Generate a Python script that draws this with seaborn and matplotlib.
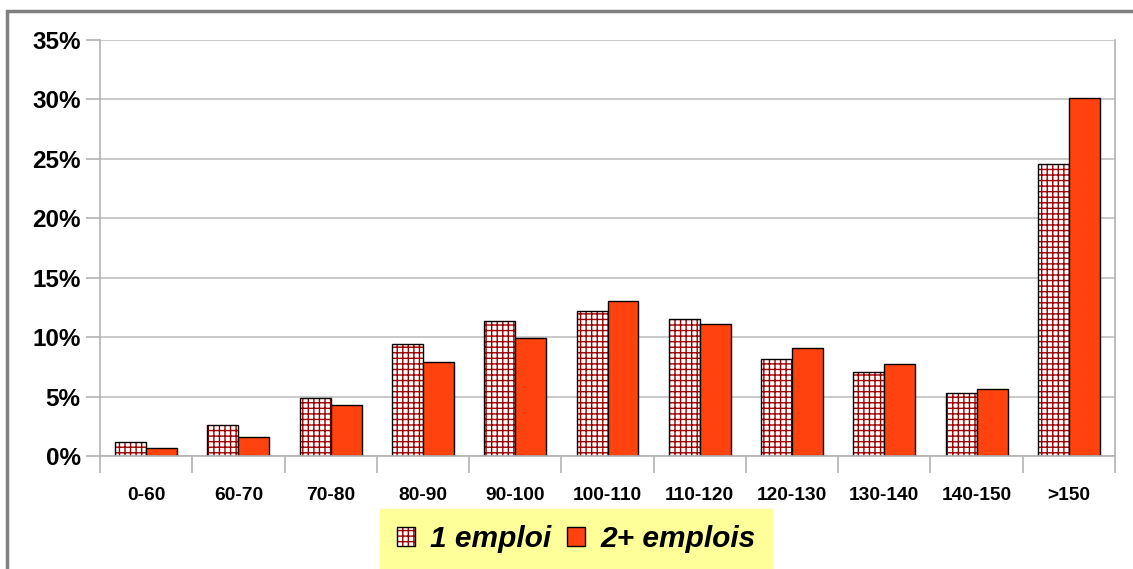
import matplotlib
matplotlib.use("Agg")
import matplotlib.pyplot as plt
import matplotlib.colors as mcolors
from matplotlib.patches import Rectangle
from matplotlib.ticker import FixedLocator, FuncFormatter
import seaborn as sns
import pandas as pd

categories = ["0-60", "60-70", "70-80", "80-90", "90-100", "100-110",
              "110-120", "120-130", "130-140", "140-150", ">150"]
un_emploi = [1.2, 2.6, 4.9, 9.4, 11.4, 12.2, 11.5, 8.2, 7.1, 5.3, 24.6]
deux_emplois = [0.7, 1.6, 4.3, 7.9, 9.9, 13.0, 11.1, 9.1, 7.7, 5.6, 30.1]
series_names = ["1 emploi", "2+ emplois"]
y_ticks = [0, 5, 10, 15, 20, 25, 30, 35]

df = pd.DataFrame({
    "cat": categories * 2,
    "val": un_emploi + deux_emplois,
    "serie": [series_names[0]] * len(categories) + [series_names[1]] * len(categories),
})

sns.set_theme(style="white")
plt.rcParams["font.family"] = ["Liberation Sans", "DejaVu Sans"]
plt.rcParams["text.color"] = "black"
plt.rcParams["xtick.color"] = "black"
plt.rcParams["ytick.color"] = "black"
plt.rcParams["hatch.linewidth"] = 1.0

fig = plt.figure(figsize=(11.33, 5.69), dpi=100)
ax = fig.add_axes([100 / 1133, 1 - 456 / 569, 1015 / 1133, 416 / 569])

palette = {series_names[0]: "white", series_names[1]: "#ff420e"}
sns.barplot(data=df, x="cat", y="val", hue="serie", order=categories,
            hue_order=series_names, palette=palette, width=0.67,
            saturation=1, edgecolor="black", linewidth=1.0, ax=ax, legend=False)

hatch_col = mcolors.to_rgba("#9a0000")
n = len(categories)
for i, p in enumerate(ax.patches):
    if i < n:
        p.set_hatch("+++")
        p._hatch_color = hatch_col

ax.set_ylim(0, 35)
ax.set_xlim(-0.5, n - 0.5)
ax.yaxis.set_major_locator(FixedLocator(y_ticks))
ax.yaxis.set_major_formatter(FuncFormatter(lambda v, pos: f"{v:.0f}%"))
ax.grid(axis="y", color="#c0c0c0", linewidth=1.2)
ax.set_axisbelow(True)
for s in ax.spines.values():
    s.set_color("#b3b3b3")
    s.set_linewidth(1.2)
ax.spines["top"].set_visible(False)
ax.set_xlabel("")
ax.set_ylabel("")
ax.tick_params(axis="y", length=10, width=1.2, color="#b3b3b3", labelcolor="black",
               labelsize=17.5, pad=4, left=True)
ax.tick_params(axis="x", which="major", length=0, labelsize=13.8, pad=22, labelcolor="black")
ax.xaxis.set_minor_locator(FixedLocator([i - 0.5 for i in range(n + 1)]))
ax.tick_params(axis="x", which="minor", length=12, width=1.2, color="#b3b3b3", bottom=True)
for lab in ax.get_yticklabels() + ax.get_xticklabels():
    lab.set_fontweight("bold")

handles = [ax.patches[0], ax.patches[n]]
leg = fig.legend(handles, series_names, loc="upper center",
                 bbox_to_anchor=(576 / 1133, 1 - 509 / 569), ncol=2,
                 frameon=True, fancybox=False, handlelength=0.6, handleheight=0.6,
                 handletextpad=0.5, columnspacing=0.55, borderpad=0.55,
                 borderaxespad=0,
                 prop={"size": 21.5, "weight": "bold", "style": "italic"})
leg.get_frame().set_facecolor("#ffff99")
leg.get_frame().set_edgecolor("#ffff99")
leg.get_frame().set_alpha(1)

fig.patches.append(Rectangle((7 / 1133, -0.1), 1.2, 1.1 - 11 / 569,
                             transform=fig.transFigure, fill=False,
                             edgecolor="#808080", linewidth=2.5, zorder=10))

fig.savefig("out.png", dpi=100)
